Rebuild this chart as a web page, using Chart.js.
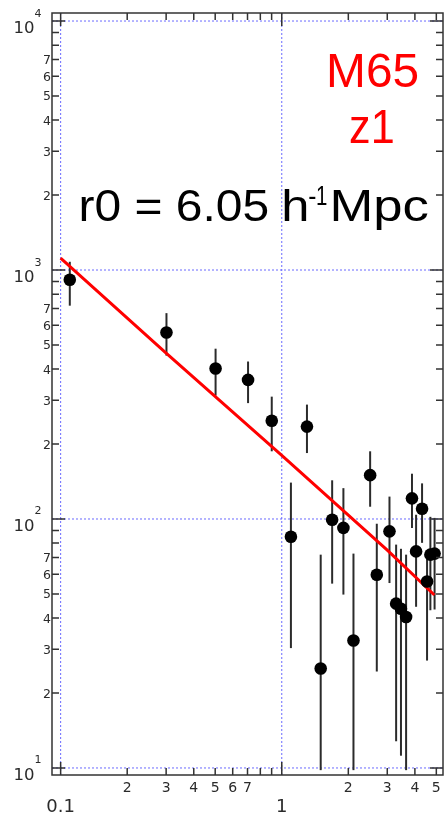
<!DOCTYPE html>
<html>
<head>
<meta charset="utf-8">
<script src="https://cdn.jsdelivr.net/npm/chart.js@4.4.1/dist/chart.umd.min.js"></script>
<style>
  html, body { margin: 0; padding: 0; background: #fff; }
  canvas { display: block; }
</style>
</head>
<body>
<canvas id="chart" width="444" height="814"></canvas>
<script>
// projected separation rp (h^-1 Mpc) and wp(rp)
const rp   = [0.110, 0.301, 0.502, 0.704, 0.901, 1.10, 1.30, 1.50, 1.69, 1.90, 2.11, 2.51,
              2.69, 3.07, 3.29, 3.46, 3.65, 3.88, 4.05, 4.31, 4.54, 4.70, 4.91];
const wp   = [914, 561, 402, 362, 248, 84.9, 235, 25.1, 99.3, 92.1, 32.5, 150,
              59.7, 89.2, 45.7, 43.6, 40.4, 121, 74.1, 110, 56.1, 71.9, 72.6];
const wpLo = [719, 453, 313, 292, 187, 30.3, 184, 9.8, 55, 49.7, 9.8, 112,
              24.4, 55.3, 12.8, 11.2, 9.8, 92, 44.4, 80.2, 27, 43, 43.3];
const wpHi = [1079, 671, 483, 429, 310, 140, 288, 71.9, 143, 133, 72.6, 187,
              95.7, 123, 78.9, 75.9, 71.9, 152, 104, 139, 74.1, 102, 101];

// power-law fit (red line), read at a few places
const fitX = [0.1, 0.3, 1, 3, 4.9];
const fitY = [1117, 464, 180, 75, 49.5];

// axis ticks
const xMajor = [0.1, 1];
const xMajorLabels = ['0.1', '1'];
const xMinor = [0.2, 0.3, 0.4, 0.5, 0.6, 0.7, 0.8, 0.9, 2, 3, 4, 5];
const xMinorLabels = ['2', '3', '4', '5', '6', '7', '', '', '2', '3', '4', '5'];
const yMajor = [10, 100, 1000, 10000];
const yMajorExp = ['1', '2', '3', '4'];
const yMinor = [20, 30, 40, 50, 60, 70, 80, 90, 200, 300, 400, 500, 600, 700, 800, 900,
                2000, 3000, 4000, 5000, 6000, 7000, 8000, 9000];
const yMinorLabels = ['2', '3', '4', '5', '6', '7', '', '', '2', '3', '4', '5', '6', '7', '', '',
                      '2', '3', '4', '5', '6', '7', '', ''];

const AXIS = '#333';
const LABEL = '#2a2a2a';
const GRID = '#6a6aff';
const TICK_FONT = "'DejaVu Sans', Verdana, sans-serif";
const TEXT_FONT = "'Liberation Sans', Arial, sans-serif";

// draw text stretched so that its ink spans [left, right]
function fitText(ctx, text, left, right, baseline, font, color) {
    ctx.save();
    ctx.font = font;
    ctx.fillStyle = color;
    ctx.textAlign = 'left';
    ctx.textBaseline = 'alphabetic';
    const m = ctx.measureText(text);
    const ink = m.actualBoundingBoxLeft + m.actualBoundingBoxRight;
    const sx = (right - left) / ink;
    ctx.translate(left, baseline);
    ctx.scale(sx, 1);
    ctx.fillText(text, m.actualBoundingBoxLeft, 0);
    ctx.restore();
}

const frame = {
    id: 'frame',
    beforeDatasetsDraw(chart) {
        const { ctx, chartArea: a, scales: { x, y } } = chart;
        ctx.save();
        // dotted decade grid
        ctx.strokeStyle = GRID;
        ctx.lineWidth = 1;
        ctx.setLineDash([2, 2]);
        xMajor.forEach(v => {
            const px = x.getPixelForValue(v);
            ctx.beginPath(); ctx.moveTo(px, a.top); ctx.lineTo(px, a.bottom); ctx.stroke();
        });
        yMajor.forEach(v => {
            const py = y.getPixelForValue(v);
            ctx.beginPath(); ctx.moveTo(a.left, py); ctx.lineTo(a.right, py); ctx.stroke();
        });
        ctx.setLineDash([]);
        // error bars
        ctx.strokeStyle = '#2b2b2b';
        ctx.lineWidth = 2;
        rp.forEach((r, i) => {
            const px = x.getPixelForValue(r);
            ctx.beginPath();
            ctx.moveTo(px, y.getPixelForValue(wpLo[i]));
            ctx.lineTo(px, y.getPixelForValue(wpHi[i]));
            ctx.stroke();
        });
        ctx.restore();
    },
    afterDatasetsDraw(chart) {
        const { ctx, chartArea: a, scales: { x, y } } = chart;
        ctx.save();
        ctx.strokeStyle = AXIS;
        ctx.lineWidth = 1.5;
        ctx.strokeRect(a.left, a.top, a.right - a.left, a.bottom - a.top);

        const tickX = (v, len) => {
            const px = x.getPixelForValue(v);
            ctx.beginPath();
            ctx.moveTo(px, a.bottom); ctx.lineTo(px, a.bottom - len);
            ctx.moveTo(px, a.top); ctx.lineTo(px, a.top + len);
            ctx.stroke();
        };
        const tickY = (v, len) => {
            const py = y.getPixelForValue(v);
            ctx.beginPath();
            ctx.moveTo(a.left, py); ctx.lineTo(a.left + len, py);
            ctx.moveTo(a.right, py); ctx.lineTo(a.right - len, py);
            ctx.stroke();
        };
        xMajor.forEach(v => tickX(v, 13));
        xMinor.forEach(v => tickX(v, 7));
        yMajor.forEach(v => tickY(v, 13));
        yMinor.forEach(v => tickY(v, 7));

        // tick labels
        ctx.fillStyle = LABEL;
        ctx.textBaseline = 'alphabetic';
        ctx.textAlign = 'center';
        ctx.font = `14px ${TICK_FONT}`;
        xMinor.forEach((v, i) => ctx.fillText(xMinorLabels[i], x.getPixelForValue(v), 792));
        ctx.font = `18px ${TICK_FONT}`;
        xMajor.forEach((v, i) => ctx.fillText(xMajorLabels[i], x.getPixelForValue(v), 811.5));

        ctx.textAlign = 'right';
        ctx.font = `12.5px ${TICK_FONT}`;
        yMinor.forEach((v, i) => ctx.fillText(yMinorLabels[i], 51, y.getPixelForValue(v) + 4.5));
        yMajor.forEach((v, i) => {
            const py = y.getPixelForValue(v);
            ctx.textAlign = 'right';
            ctx.font = `16.5px ${TICK_FONT}`;
            ctx.fillText('10', 34.5, py + 11.8);
            ctx.textAlign = 'left';
            ctx.font = `11px ${TICK_FONT}`;
            ctx.fillText(yMajorExp[i], 34.5, py - 4.5);
        });
        ctx.restore();

        // annotations
        fitText(ctx, 'M65', 330, 418, 87.3, `49px ${TEXT_FONT}`, '#ff0000');
        fitText(ctx, 'z1', 350, 392.7, 143.3, `49px ${TEXT_FONT}`, '#ff0000');
        fitText(ctx, 'r0 = 6.05', 80.7, 268, 220.7, `45px ${TEXT_FONT}`, '#000');
        fitText(ctx, 'h', 284.5, 307, 220.7, `45px ${TEXT_FONT}`, '#000');
        fitText(ctx, '-', 309, 316, 205, `28px ${TEXT_FONT}`, '#000');
        fitText(ctx, '1', 317.5, 327, 205, `28px ${TEXT_FONT}`, '#000');
        fitText(ctx, 'Mpc', 333, 428.3, 220.7, `45px ${TEXT_FONT}`, '#000');
    }
};

new Chart(document.getElementById('chart').getContext('2d'), {
    type: 'scatter',
    data: {
        datasets: [
            {
                label: 'fit',
                type: 'line',
                data: fitX.map((v, i) => ({ x: v, y: fitY[i] })),
                borderColor: '#ff0000',
                borderWidth: 3,
                pointRadius: 0,
                fill: false,
                tension: 0,
                order: 2,
            },
            {
                label: 'wp',
                data: rp.map((v, i) => ({ x: v, y: wp[i] })),
                backgroundColor: '#000',
                borderColor: '#000',
                borderWidth: 0,
                pointRadius: 6.3,
                order: 1,
            },
        ],
    },
    options: {
        responsive: false,
        animation: false,
        devicePixelRatio: 1,
        layout: { autoPadding: false, padding: { left: 52, right: 1, top: 13, bottom: 39 } },
        scales: {
            x: { type: 'logarithmic', min: 0.0914, max: 5.36, display: false },
            y: { type: 'logarithmic', min: 9.37, max: 10770, display: false },
        },
        plugins: {
            legend: { display: false },
            tooltip: { enabled: false },
        },
    },
    plugins: [frame],
});
</script>
</body>
</html>
